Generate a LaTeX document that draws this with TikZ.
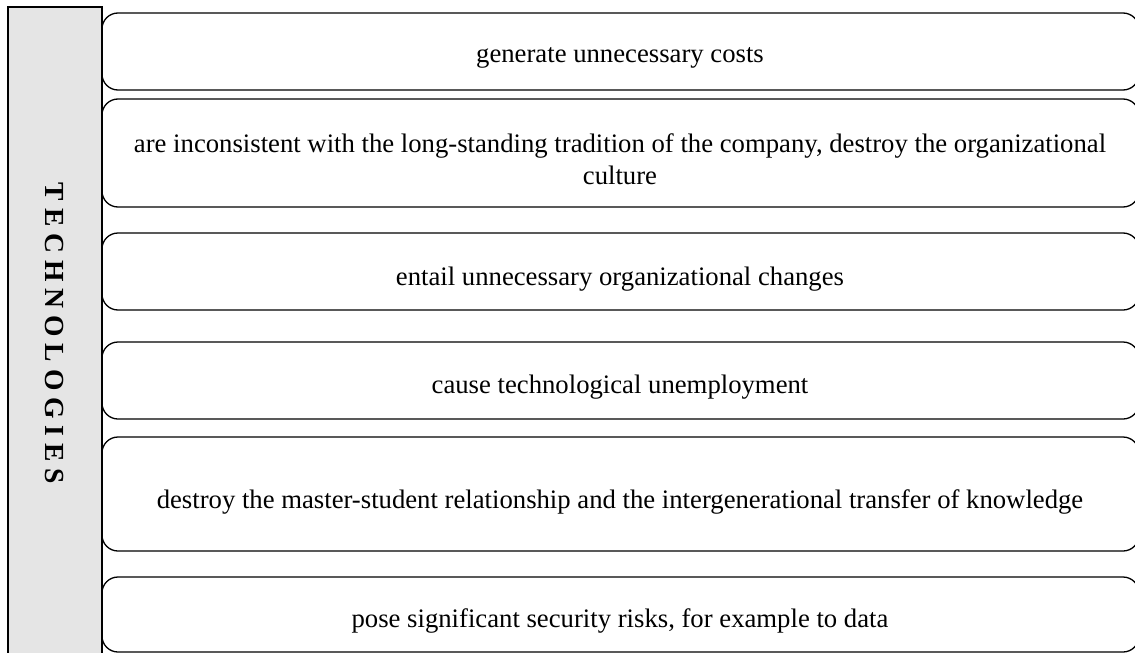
\documentclass[tikz,border=0pt]{standalone}
\usepackage{fontspec}
\setmainfont{Liberation Serif}
\usepackage{tikz}
\usetikzlibrary{positioning}

\begin{document}
\begin{tikzpicture}[x=0.5pt,y=-0.5pt,
	side box/.style={draw, fill=gray!20, line width=0.55pt, minimum width=47pt, minimum height=326.5pt, inner sep=0pt},
	item box/.style={draw, line width=0.65pt, rounded corners=8pt, minimum width=518.5pt, inner sep=0pt},
	item text/.style={anchor=base, align=center, font=\fontsize{13.35}{16}\selectfont}]
	\useasboundingbox (0,0) rectangle (1135,653);
	\clip (0,0) rectangle (1135,653);

	% Left bar
	\node[side box] (side) at (55,333.5) {};
	\node[rotate=-90, font=\fontsize{13.8}{16}\selectfont\bfseries] (title) at (side.center) {T E C H N O L O G I E S};

	% Boxes
	\node[item box, minimum height=38.5pt] (1) at (620.5,51.5) {};
	\node[item box, minimum height=54pt] (2) at (620.5,153) {};
	\node[item box, minimum height=38.5pt] (3) at (620.5,271.5) {};
	\node[item box, minimum height=38.5pt] (4) at (620.5,380.5) {};
	\node[item box, minimum height=57pt] (5) at (620.5,494) {};
	\node[item box, minimum height=37.5pt] (6) at (620.5,614.5) {};

	% Texts (base = last line)
	\node[item text] (t1) at (620,62) {generate unnecessary costs};
	\node[item text] (t2) at (620,184) {are inconsistent with the long-standing tradition of the company, destroy the organizational\\culture};
	\node[item text] (t3) at (620,285) {entail unnecessary organizational changes};
	\node[item text] (t4) at (620,393) {cause technological unemployment};
	\node[item text] (t5) at (620,508) {destroy the master-student relationship and the intergenerational transfer of knowledge};
	\node[item text] (t6) at (620,627) {pose significant security risks, for example to data};

\end{tikzpicture}
\end{document}
